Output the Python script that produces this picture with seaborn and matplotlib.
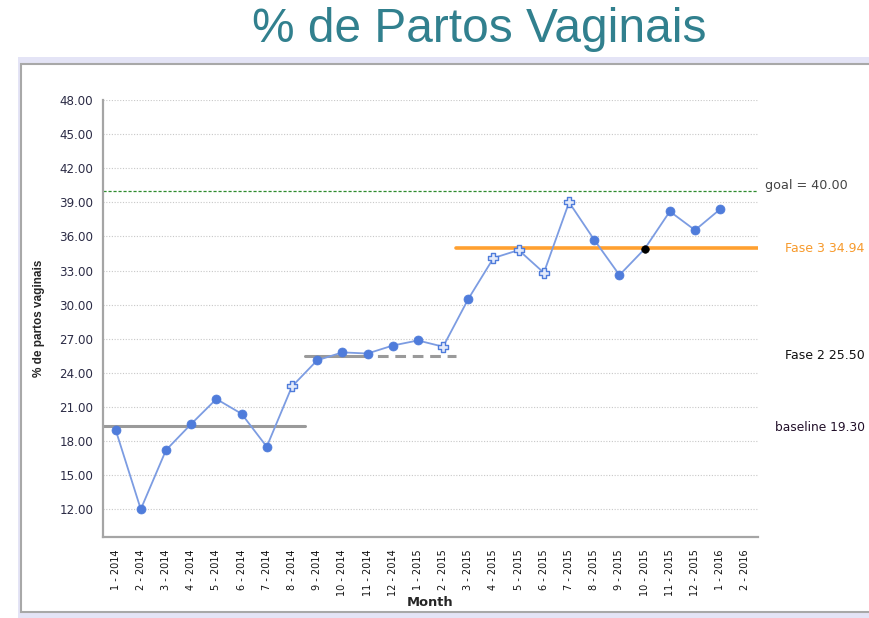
import matplotlib
matplotlib.use("Agg")
import matplotlib.pyplot as plt
import seaborn as sns
import pandas as pd
import numpy as np
from matplotlib.patches import Rectangle

months = ["1 - 2014", "2 - 2014", "3 - 2014", "4 - 2014", "5 - 2014", "6 - 2014",
          "7 - 2014", "8 - 2014", "9 - 2014", "10 - 2014", "11 - 2014", "12 - 2014",
          "1 - 2015", "2 - 2015", "3 - 2015", "4 - 2015", "5 - 2015", "6 - 2015",
          "7 - 2015", "8 - 2015", "9 - 2015", "10 - 2015", "11 - 2015", "12 - 2015",
          "1 - 2016", "2 - 2016"]
values = [19.0, 12.0, 17.2, 19.5, 21.7, 20.4, 17.5, 22.8, 25.1, 25.8, 25.7, 26.4,
          26.85, 26.3, 30.5, 34.1, 34.8, 32.8, 39.0, 35.7, 32.6, 34.9, 38.2, 36.55,
          38.4, np.nan]
point_type = ["dot", "dot", "dot", "dot", "dot", "dot", "dot", "plus", "dot", "dot",
              "dot", "dot", "dot", "plus", "dot", "plus", "plus", "plus", "plus", "dot",
              "dot", "black", "dot", "dot", "dot", "none"]
yticks = [12, 15, 18, 21, 24, 27, 30, 33, 36, 39, 42, 45, 48]

goal = 40.00
baseline = 19.30
fase2 = 25.50
fase3 = 34.94

df = pd.DataFrame({"idx": np.arange(len(months)), "month": months,
                   "value": values, "type": point_type})

sns.set_style("white")
plt.rcParams["font.family"] = ["DejaVu Sans"]

W, H = 869, 618
fig = plt.figure(figsize=(W / 100, H / 100), dpi=100)

# panel frame
fig.patches.append(Rectangle((18 / W, 0), 1, 1 - 57 / H, transform=fig.transFigure,
                             facecolor="#E4E4F6", edgecolor="none", zorder=-2))
fig.patches.append(Rectangle((21 / W, 1 - 612 / H), 1, (612 - 64) / H,
                             transform=fig.transFigure, facecolor="white",
                             edgecolor="#A8A8A8", lw=1.5, zorder=-1))

fig.text(479 / W, 1 - 29 / H, "% de Partos Vaginais", ha="center", va="center",
         fontsize=34.5, color="#31808E", family=["Liberation Sans", "DejaVu Sans"])

ax = fig.add_axes([103 / W, 1 - 537 / H, (758 - 103) / W, (537 - 100) / H])
ax.set_zorder(1)
ax.set_facecolor("white")

sns.lineplot(data=df, x="idx", y="value", ax=ax, color="#7C9CE2", lw=1.3,
             zorder=3, legend=False)
d = df[df["type"] == "dot"]
sns.scatterplot(data=d, x="idx", y="value", ax=ax, color="#4F7CDB", s=42,
                edgecolor="#4F7CDB", linewidth=0.5, zorder=4, legend=False)
p = df[df["type"] == "plus"]
sns.scatterplot(data=p, x="idx", y="value", ax=ax, marker="P", s=55,
                facecolor="#E3EAFA", edgecolor="#4F7CDB", linewidth=1.0, zorder=4,
                legend=False)
b = df[df["type"] == "black"]
sns.scatterplot(data=b, x="idx", y="value", ax=ax, color="black", s=30,
                edgecolor="black", zorder=5, legend=False)

# reference lines
ax.plot([-0.5, 25.5], [goal, goal], color="#2E8B2E", lw=0.9, ls=(0, (2.5, 1.5)), zorder=2)
ax.plot([-0.5, 7.5], [baseline, baseline], color="#9A9A9A", lw=2.2, zorder=2)
ax.plot([7.5, 9.7], [fase2, fase2], color="#9A9A9A", lw=2.2, zorder=2)
ax.plot([9.7, 13.5], [fase2, fase2], color="#9A9A9A", lw=2.2, ls=(0, (3.5, 2.2)), zorder=2)
ax.plot([13.5, 25.5], [fase3, fase3], color="#FFA030", lw=2.6, zorder=2)

ax.set_xlim(-0.5, 25.5)
ax.set_ylim(9.56, 48)
ax.set_yticks(yticks)
ax.set_yticklabels([f"{v:.2f}" for v in yticks], fontsize=8.6, color="#2B2B45")
ax.set_xticks(np.arange(len(months)))
ax.set_xticklabels(months, rotation=90, fontsize=7, color="#111111")
ax.tick_params(axis="both", length=4, width=0.8, color="#BBBBBB", pad=3)
ax.tick_params(axis="x", pad=5)
ax.grid(axis="y", color="#C8C8C8", ls=(0, (1, 1.5)), lw=0.8)
ax.grid(axis="x", visible=False)
for s in ["top", "right"]:
    ax.spines[s].set_visible(False)
for s in ["left", "bottom"]:
    ax.spines[s].set_color("#A5A5A5")
    ax.spines[s].set_linewidth(1.6)

ax.set_xlabel("Month", fontsize=9.4, fontweight="bold", labelpad=0)
ax.set_ylabel("% de partos vaginais", fontsize=8.5, fontweight="bold", labelpad=10,
              family=["Liberation Sans", "DejaVu Sans"])

tr = ax.get_yaxis_transform()
ax.text(1.011, goal + 0.5, "goal = 40.00", transform=tr, fontsize=9.2,
        color="#444444", va="center", clip_on=False)
ax.text(1.041, fase3, "Fase 3 34.94", transform=tr, fontsize=9,
        color="#F79A2C", va="center", clip_on=False)
ax.text(1.041, fase2, "Fase 2 25.50", transform=tr, fontsize=9,
        color="#111111", va="center", clip_on=False)
ax.text(1.026, baseline - 0.1, "baseline 19.30", transform=tr, fontsize=8.8,
        color="#22102A", va="center", clip_on=False)

fig.savefig("out.png", dpi=100)
